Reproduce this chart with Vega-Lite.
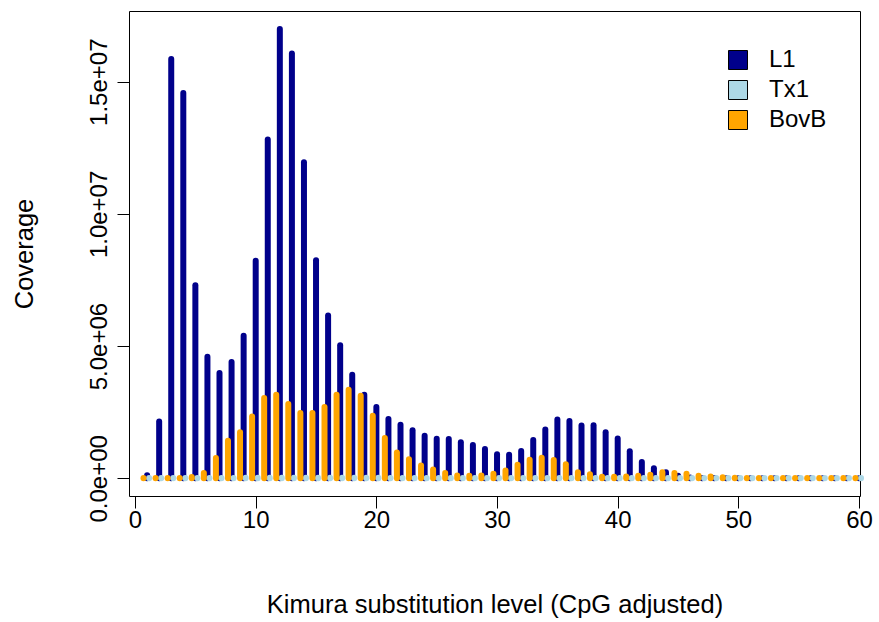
{
  "$schema": "https://vega.github.io/schema/vega-lite/v6.json",
  "width": 731,
  "height": 485,
  "autosize": {"type": "none"},
  "padding": {"left": 129, "top": 11, "right": 19, "bottom": 126},
  "background": "white",
  "config": {
    "font": "Liberation Sans",
    "view": {"stroke": "black", "strokeWidth": 1}
  },
  "data": {
    "values": [
      {"div": 1, "L1": 120000, "Tx1": 12000, "BovB": 10000},
      {"div": 2, "L1": 2150000, "Tx1": 12000, "BovB": 10000},
      {"div": 3, "L1": 15860000, "Tx1": 14000, "BovB": 10000},
      {"div": 4, "L1": 14570000, "Tx1": 14000, "BovB": 15000},
      {"div": 5, "L1": 7300000, "Tx1": 15000, "BovB": 50000},
      {"div": 6, "L1": 4600000, "Tx1": 15000, "BovB": 200000},
      {"div": 7, "L1": 3980000, "Tx1": 16000, "BovB": 770000},
      {"div": 8, "L1": 4400000, "Tx1": 16000, "BovB": 1420000},
      {"div": 9, "L1": 5390000, "Tx1": 18000, "BovB": 1740000},
      {"div": 10, "L1": 8230000, "Tx1": 20000, "BovB": 2340000},
      {"div": 11, "L1": 12810000, "Tx1": 22000, "BovB": 3040000},
      {"div": 12, "L1": 16990000, "Tx1": 24000, "BovB": 3160000},
      {"div": 13, "L1": 16070000, "Tx1": 24000, "BovB": 2810000},
      {"div": 14, "L1": 11950000, "Tx1": 22000, "BovB": 2470000},
      {"div": 15, "L1": 8250000, "Tx1": 22000, "BovB": 2470000},
      {"div": 16, "L1": 6160000, "Tx1": 20000, "BovB": 2700000},
      {"div": 17, "L1": 5030000, "Tx1": 20000, "BovB": 3160000},
      {"div": 18, "L1": 3920000, "Tx1": 20000, "BovB": 3350000},
      {"div": 19, "L1": 3160000, "Tx1": 18000, "BovB": 3120000},
      {"div": 20, "L1": 2700000, "Tx1": 18000, "BovB": 2370000},
      {"div": 21, "L1": 2240000, "Tx1": 16000, "BovB": 1520000},
      {"div": 22, "L1": 2030000, "Tx1": 16000, "BovB": 980000},
      {"div": 23, "L1": 1820000, "Tx1": 15000, "BovB": 725000},
      {"div": 24, "L1": 1610000, "Tx1": 15000, "BovB": 485000},
      {"div": 25, "L1": 1500000, "Tx1": 14000, "BovB": 330000},
      {"div": 26, "L1": 1490000, "Tx1": 14000, "BovB": 205000},
      {"div": 27, "L1": 1360000, "Tx1": 14000, "BovB": 110000},
      {"div": 28, "L1": 1260000, "Tx1": 13000, "BovB": 100000},
      {"div": 29, "L1": 1110000, "Tx1": 13000, "BovB": 110000},
      {"div": 30, "L1": 910000, "Tx1": 13000, "BovB": 170000},
      {"div": 31, "L1": 890000, "Tx1": 13000, "BovB": 300000},
      {"div": 32, "L1": 1030000, "Tx1": 14000, "BovB": 510000},
      {"div": 33, "L1": 1450000, "Tx1": 15000, "BovB": 700000},
      {"div": 34, "L1": 1850000, "Tx1": 16000, "BovB": 780000},
      {"div": 35, "L1": 2220000, "Tx1": 16000, "BovB": 690000},
      {"div": 36, "L1": 2170000, "Tx1": 16000, "BovB": 530000},
      {"div": 37, "L1": 2000000, "Tx1": 15000, "BovB": 230000},
      {"div": 38, "L1": 2010000, "Tx1": 15000, "BovB": 150000},
      {"div": 39, "L1": 1740000, "Tx1": 14000, "BovB": 60000},
      {"div": 40, "L1": 1510000, "Tx1": 14000, "BovB": 60000},
      {"div": 41, "L1": 1020000, "Tx1": 13000, "BovB": 65000},
      {"div": 42, "L1": 615000, "Tx1": 12000, "BovB": 100000},
      {"div": 43, "L1": 380000, "Tx1": 12000, "BovB": 135000},
      {"div": 44, "L1": 230000, "Tx1": 11000, "BovB": 230000},
      {"div": 45, "L1": 100000, "Tx1": 11000, "BovB": 200000},
      {"div": 46, "L1": 30000, "Tx1": 10000, "BovB": 170000},
      {"div": 47, "L1": 15000, "Tx1": 10000, "BovB": 100000},
      {"div": 48, "L1": 9000, "Tx1": 9000, "BovB": 70000},
      {"div": 49, "L1": 7000, "Tx1": 9000, "BovB": 40000},
      {"div": 50, "L1": 6000, "Tx1": 8000, "BovB": 25000},
      {"div": 51, "L1": 5000, "Tx1": 8000, "BovB": 15000},
      {"div": 52, "L1": 5000, "Tx1": 8000, "BovB": 12000},
      {"div": 53, "L1": 5000, "Tx1": 8000, "BovB": 10000},
      {"div": 54, "L1": 5000, "Tx1": 8000, "BovB": 10000},
      {"div": 55, "L1": 5000, "Tx1": 8000, "BovB": 10000},
      {"div": 56, "L1": 5000, "Tx1": 8000, "BovB": 10000},
      {"div": 57, "L1": 5000, "Tx1": 8000, "BovB": 10000},
      {"div": 58, "L1": 5000, "Tx1": 8000, "BovB": 10000},
      {"div": 59, "L1": 5000, "Tx1": 8000, "BovB": 10000},
      {"div": 60, "L1": 5000, "Tx1": 8000, "BovB": 10000}
    ]
  },
  "transform": [
    {"fold": ["L1", "Tx1", "BovB"], "as": ["family", "coverage"]}
  ],
  "encoding": {
    "x": {
      "field": "div",
      "type": "quantitative",
      "scale": {"domain": [-0.5, 60.08], "nice": false, "zero": false},
      "axis": {
        "values": [0, 10, 20, 30, 40, 50, 60],
        "title": "Kimura substitution level (CpG adjusted)",
        "grid": false,
        "domain": false,
        "tickSize": 12,
        "tickColor": "black",
        "tickWidth": 1,
        "labelFontSize": 24,
        "labelColor": "black",
        "labelPadding": 0,
        "labelFlush": false,
        "labelOverlap": false,
        "titleFontSize": 25.5,
        "titleFontWeight": "normal",
        "titleColor": "black",
        "titleY": 108,
        "titleBaseline": "middle"
      }
    },
    "y": {
      "field": "coverage",
      "type": "quantitative",
      "scale": {"domain": [-669000, 17674000], "nice": false, "zero": false},
      "axis": {
        "values": [0, 5000000, 10000000, 15000000],
        "labelExpr": "replace(format(datum.value, '.1e'), regexp('e\\\\+(\\\\d)$'), 'e+0$1')",
        "title": "Coverage",
        "grid": false,
        "domain": false,
        "tickSize": 12,
        "tickColor": "black",
        "tickWidth": 1,
        "labelAngle": -90,
        "labelAlign": "center",
        "labelBaseline": "alphabetic",
        "labelPadding": 11,
        "labelFontSize": 24,
        "labelColor": "black",
        "labelOverlap": false,
        "titleFontSize": 25.5,
        "titleFontWeight": "normal",
        "titleColor": "black",
        "titleAngle": -90,
        "titleX": -105,
        "titleY": 242.5,
        "titleBaseline": "middle"
      }
    },
    "y2": {"datum": 0},
    "stroke": {
      "field": "family",
      "type": "nominal",
      "scale": {"domain": ["BovB", "L1", "Tx1"], "range": ["#FFA500", "#00008B", "#ADD8E6"]},
      "legend": null
    },
    "fill": {
      "field": "family",
      "type": "nominal",
      "scale": {"domain": ["L1", "Tx1", "BovB"], "range": ["#00008B", "#ADD8E6", "#FFA500"]},
      "legend": {
        "title": null,
        "orient": "none",
        "legendX": 597,
        "legendY": 37,
        "padding": 0,
        "symbolType": "square",
        "symbolSize": 361,
        "symbolStrokeWidth": 1,
        "symbolStrokeColor": "black",
        "symbolOpacity": 1,
        "labelFontSize": 24,
        "labelColor": "black",
        "labelOffset": 19,
        "rowPadding": 6
      }
    }
  },
  "layer": [
    {
      "transform": [{"filter": "datum.family === 'L1'"}],
      "mark": {"type": "rule", "strokeWidth": 6, "strokeCap": "round"}
    },
    {
      "transform": [{"filter": "datum.family === 'Tx1'"}],
      "mark": {"type": "rule", "strokeWidth": 6, "strokeCap": "round", "xOffset": 2}
    },
    {
      "transform": [{"filter": "datum.family === 'BovB'"}],
      "mark": {"type": "rule", "strokeWidth": 6, "strokeCap": "round", "xOffset": -3.6}
    }
  ]
}
